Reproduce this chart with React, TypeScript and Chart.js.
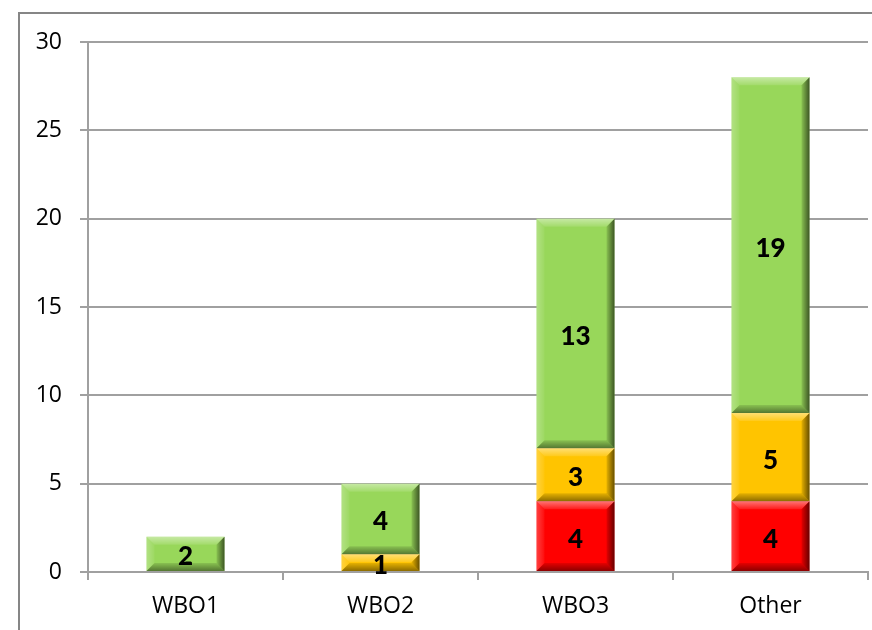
import React, { useEffect, useRef } from "react";
import { Chart, registerables } from "chart.js";

Chart.register(...registerables);

const categories = ["WBO1", "WBO2", "WBO3", "Other"];
const redValues = [0, 0, 4, 4];
const yellowValues = [0, 1, 3, 5];
const greenValues = [2, 4, 13, 19];
const yTickMax = 30;
const yTickStep = 5;

const bevelPlugin = {
  id: "bevel",
  afterDatasetsDraw(chart: any) {
    const ctx = chart.ctx;
    chart.data.datasets.forEach((ds: any, di: number) => {
      const meta = chart.getDatasetMeta(di);
      meta.data.forEach((el: any, i: number) => {
        const v = ds.data[i];
        if (!v) return;
        const p = el.getProps(["x", "y", "base", "width"], true);
        const l = p.x - p.width / 2;
        const r = p.x + p.width / 2;
        const t = Math.min(p.y, p.base);
        const bt = Math.max(p.y, p.base);
        const b = Math.min(8, (bt - t) / 2, (r - l) / 2);
        const poly = (pts: number[][], fill: any) => {
          ctx.beginPath();
          ctx.moveTo(pts[0][0], pts[0][1]);
          for (let k = 1; k < pts.length; k++) ctx.lineTo(pts[k][0], pts[k][1]);
          ctx.closePath();
          ctx.fillStyle = fill;
          ctx.fill();
        };
        ctx.save();
        const gTop = ctx.createLinearGradient(0, t, 0, t + b);
        gTop.addColorStop(0, "rgba(255,255,255,0.45)");
        gTop.addColorStop(1, "rgba(255,255,255,0.1)");
        poly([[l, t], [r, t], [r - b, t + b], [l + b, t + b]], gTop);
        const gLeft = ctx.createLinearGradient(l, 0, l + b, 0);
        gLeft.addColorStop(0, "rgba(255,255,255,0.25)");
        gLeft.addColorStop(1, "rgba(255,255,255,0.05)");
        poly([[l, t], [l + b, t + b], [l + b, bt - b], [l, bt]], gLeft);
        const gRight = ctx.createLinearGradient(r - b, 0, r, 0);
        gRight.addColorStop(0, "rgba(0,0,0,0.1)");
        gRight.addColorStop(1, "rgba(0,0,0,0.6)");
        poly([[r, t], [r, bt], [r - b, bt - b], [r - b, t + b]], gRight);
        const gBot = ctx.createLinearGradient(0, bt - b, 0, bt);
        gBot.addColorStop(0, "rgba(0,0,0,0.1)");
        gBot.addColorStop(1, "rgba(0,0,0,0.45)");
        poly([[l, bt], [r, bt], [r - b, bt - b], [l + b, bt - b]], gBot);
        ctx.fillStyle = "#000";
        ctx.font = "900 26px Lato";
        ctx.textAlign = "center";
        ctx.textBaseline = "middle";
        ctx.fillText(String(v), p.x, (t + bt) / 2 + 3);
        ctx.restore();
      });
    });
  },
  afterDraw(chart: any) {
    const ctx = chart.ctx;
    ctx.save();
    ctx.strokeStyle = "#868686";
    ctx.lineWidth = 2;
    ctx.strokeRect(19, 13, 900, 700);
    ctx.restore();
  },
};

export default function App() {
  const ref = useRef<HTMLCanvasElement>(null);
  useEffect(() => {
    document.body.style.margin = "0";
    const gridColor = "#a0a0a0";
    const chart = new Chart(ref.current!, {
      type: "bar",
      data: {
        labels: categories,
        datasets: [
          { label: "Red", data: redValues, backgroundColor: "#FF0000" },
          { label: "Yellow", data: yellowValues, backgroundColor: "#FFC400" },
          { label: "Green", data: greenValues, backgroundColor: "#98D75A" },
        ],
      },
      options: {
        responsive: false,
        devicePixelRatio: 1,
        animation: false,
        layout: { padding: { top: 42, right: 4, left: 0, bottom: 0 } },
        plugins: { legend: { display: false }, tooltip: { enabled: false } },
        datasets: { bar: { barPercentage: 0.4, categoryPercentage: 1 } },
        scales: {
          x: {
            stacked: true,
            afterFit: (s: any) => { s.height = 58; },
            grid: { drawOnChartArea: false, drawTicks: true, tickLength: 8, color: gridColor, lineWidth: 2, offset: true },
            border: { color: gridColor, width: 2 },
            ticks: { color: "#000", font: { family: "Open Sans", size: 23 }, padding: 13 },
          },
          y: {
            stacked: true,
            min: 0,
            max: yTickMax,
            afterFit: (s: any) => { s.width = 88; },
            grid: { color: gridColor, lineWidth: 2, tickLength: 8 },
            border: { color: gridColor, width: 2 },
            ticks: { stepSize: yTickStep, color: "#000", font: { family: "Open Sans", size: 23 }, padding: 18 },
          },
        },
      },
      plugins: [bevelPlugin],
    });
    return () => chart.destroy();
  }, []);
  return (
    <div style={{ width: 872, height: 630, background: "#fff" }}>
      <canvas ref={ref} width={872} height={630} />
    </div>
  );
}
